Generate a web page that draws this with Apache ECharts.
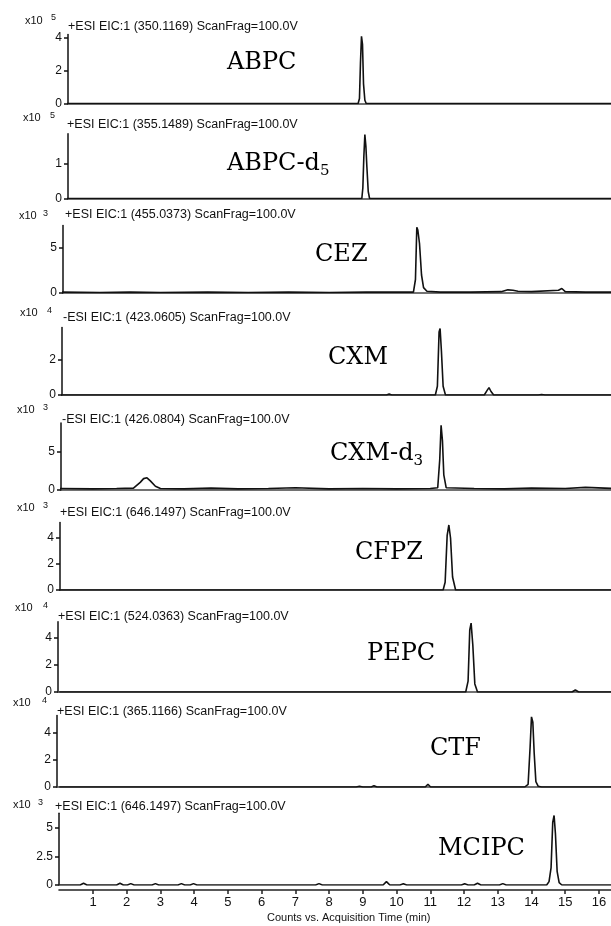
<!DOCTYPE html>
<html>
<head>
<meta charset="utf-8">
<script src="https://cdn.jsdelivr.net/npm/echarts@6/dist/echarts.min.js"></script>
<style>
html, body { margin: 0; padding: 0; background: #fff; }
#chart { width: 611px; height: 926px; }
</style>
</head>
<body>
<div id="chart"></div>
<script>
// retention time (min) and counts
const abpcTime   = [0, 8.86, 8.9, 8.93, 8.96, 8.99, 9.02, 9.06, 9.1, 16.4];
const abpcCounts = [0, 0, 0.3, 2.5, 4.1, 3.6, 1.2, 0.2, 0, 0];

const abpcD5Time   = [0, 8.97, 9.0, 9.03, 9.06, 9.09, 9.12, 9.16, 9.2, 11.15, 11.2, 11.25, 16.4];
const abpcD5Counts = [0, 0, 0.3, 1.2, 1.83, 1.5, 0.9, 0.2, 0, 0, 0.04, 0, 0];

const cezTime   = [0, 1.2, 2.1, 3.0, 4.4, 5.6, 6.8, 8.0, 9.1, 10.2, 10.5, 10.56, 10.6, 10.63, 10.68, 10.74, 10.8, 10.9,
                   11.3, 12.2, 13.1, 13.3, 13.45, 13.6, 14.0, 14.8, 14.9, 15.0, 15.6, 16.4];
const cezCounts = [0.1, 0.05, 0.1, 0.05, 0.1, 0.05, 0.1, 0.05, 0.1, 0.1, 0.1, 1.5, 7.3, 7.0, 5.5, 2.0, 0.6, 0.2,
                   0.1, 0.1, 0.15, 0.35, 0.3, 0.2, 0.15, 0.3, 0.5, 0.15, 0.1, 0.1];

const cxmTime   = [0, 9.7, 9.78, 9.86, 11.15, 11.21, 11.26, 11.29, 11.33, 11.38, 11.45,
                   12.6, 12.68, 12.74, 12.8, 12.88, 14.2, 14.3, 14.4, 16.4];
const cxmCounts = [0, 0, 0.05, 0, 0, 0.5, 3.6, 3.8, 2.5, 0.5, 0,
                   0, 0.25, 0.42, 0.2, 0, 0, 0.03, 0, 0];

const cxmD3Time   = [0, 1.0, 1.7, 2.2, 2.4, 2.5, 2.6, 2.7, 2.85, 3.0, 3.7, 4.5, 5.3, 6.2, 7.0, 8.0, 9.0, 10.0, 11.0,
                     11.22, 11.28, 11.32, 11.36, 11.4, 11.47, 12.3, 13.2, 14.0, 15.0, 15.6, 16.4];
const cxmD3Counts = [0.2, 0.15, 0.2, 0.25, 1.0, 1.5, 1.6, 1.2, 0.5, 0.2, 0.15, 0.25, 0.15, 0.2, 0.3, 0.15, 0.2, 0.15, 0.2,
                     0.3, 4.0, 8.5, 6.5, 2.0, 0.3, 0.2, 0.15, 0.25, 0.2, 0.35, 0.2];

const cfpzTime   = [0, 11.38, 11.44, 11.5, 11.55, 11.6, 11.66, 11.75, 16.4];
const cfpzCounts = [0, 0, 0.6, 4.2, 5.0, 4.0, 1.0, 0, 0];

const pepcTime   = [0, 12.05, 12.12, 12.17, 12.21, 12.26, 12.32, 12.4, 15.2, 15.3, 15.4, 16.4];
const pepcCounts = [0, 0, 0.8, 4.6, 5.1, 3.5, 0.6, 0, 0, 0.15, 0, 0];

const ctfTime   = [0, 8.8, 8.9, 9.0, 9.25, 9.33, 9.42, 10.85, 10.93, 11.01,
                   13.8, 13.9, 13.96, 14.0, 14.04, 14.08, 14.13, 14.2, 14.3, 16.4];
const ctfCounts = [0, 0, 0.05, 0, 0, 0.1, 0, 0, 0.2, 0,
                   0, 0.2, 3.0, 5.2, 4.8, 2.5, 0.4, 0.05, 0, 0];

const mcipcTime = [0, 0.62, 0.72, 0.82, 1.7, 1.8, 1.9, 2.02, 2.12, 2.22, 2.75, 2.85, 2.95,
                   3.52, 3.62, 3.72, 3.88, 3.98, 4.08, 7.6, 7.7, 7.8, 9.6, 9.7, 9.8, 10.1, 10.2, 10.3,
                   11.92, 12.02, 12.12, 12.3, 12.4, 12.5, 13.05, 13.15, 13.25,
                   14.45, 14.52, 14.58, 14.63, 14.67, 14.71, 14.76, 14.82, 14.9, 16.4];
const mcipcCounts = [0, 0, 0.15, 0, 0, 0.15, 0, 0, 0.12, 0, 0, 0.12, 0,
                     0, 0.12, 0, 0, 0.12, 0, 0, 0.12, 0, 0, 0.3, 0, 0, 0.1, 0,
                     0, 0.1, 0, 0, 0.15, 0, 0, 0.12, 0,
                     0, 0.3, 1.5, 5.5, 6.1, 4.5, 1.2, 0.2, 0, 0];

const traceTimes  = [abpcTime, abpcD5Time, cezTime, cxmTime, cxmD3Time, cfpzTime, pepcTime, ctfTime, mcipcTime];
const traceCounts = [abpcCounts, abpcD5Counts, cezCounts, cxmCounts, cxmD3Counts, cfpzCounts, pepcCounts, ctfCounts, mcipcCounts];

const compoundNames = ['ABPC', 'ABPC-d|5', 'CEZ', 'CXM', 'CXM-d|3', 'CFPZ', 'PEPC', 'CTF', 'MCIPC'];
const scanTitles = [
    '+ESI EIC:1 (350.1169) ScanFrag=100.0V',
    '+ESI EIC:1 (355.1489) ScanFrag=100.0V',
    '+ESI EIC:1 (455.0373) ScanFrag=100.0V',
    '-ESI EIC:1 (423.0605) ScanFrag=100.0V',
    '-ESI EIC:1 (426.0804) ScanFrag=100.0V',
    '+ESI EIC:1 (646.1497) ScanFrag=100.0V',
    '+ESI EIC:1 (524.0363) ScanFrag=100.0V',
    '+ESI EIC:1 (365.1166) ScanFrag=100.0V',
    '+ESI EIC:1 (646.1497) ScanFrag=100.0V'
];
const exponents = ['5', '5', '3', '4', '3', '3', '4', '4', '3'];
const yTicks = [[0, 2, 4], [0, 1], [0, 5], [0, 2], [0, 5], [0, 2, 4], [0, 2, 4], [0, 2, 4], [0, 2.5, 5]];
const yMax = [4.2, 1.85, 7.5, 3.85, 8.8, 5.2, 5.2, 5.3, 6.3];
const xTicks = [1, 2, 3, 4, 5, 6, 7, 8, 9, 10, 11, 12, 13, 14, 15, 16];

// layout (px)
const panelLeft = [68, 68, 63, 62, 61, 60, 58, 57, 59];
const panelTop = [34.6, 133.8, 225.5, 327.6, 423.1, 522.4, 621.8, 715.5, 813.2];
const panelBase = [103.5, 198.5, 293, 395, 490, 590, 692, 787, 885];
const titlePos = [[68, 27], [67, 125], [65, 215], [63, 318], [62, 420], [60, 513], [58, 617], [57, 712], [55, 807]];
const x10Pos = [[25, 21], [23, 118], [19, 216], [20, 313], [17, 410], [17, 508], [15, 608], [13, 703], [13, 805]];
const expPos = [[51, 18], [50, 116], [43, 214], [47, 311], [43, 408], [43, 506], [43, 606], [42, 701], [38, 803]];
const namePos = [[227, 66], [227, 167], [315, 258], [328, 361], [330, 457], [355, 556], [367, 657], [430, 752], [438, 852]];

const tickOneX = 93;
const pxPerMin = 33.73;
const chartWidth = 611;
const sansFont = 'Liberation Sans';
const serifFont = 'DejaVu Serif';

let chart = echarts.init(document.getElementById('chart'));

let grids = [], xAxes = [], yAxes = [], series = [], graphics = [];
for (let i = 0; i < traceTimes.length; i++) {
    let last = i === traceTimes.length - 1;
    grids.push({
        left: panelLeft[i],
        right: 0,
        top: panelTop[i],
        height: panelBase[i] - panelTop[i]
    });
    xAxes.push({
        gridIndex: i,
        type: 'value',
        min: 1 + (panelLeft[i] - tickOneX) / pxPerMin,
        max: 1 + (chartWidth - tickOneX) / pxPerMin,
        offset: last ? 5 : 0,
        axisLine: { show: true, onZero: false, lineStyle: { color: last ? '#222' : '#444', width: 1.6 } },
        axisTick: { show: last, customValues: xTicks, length: 4, lineStyle: { color: '#222', width: 1.5 } },
        axisLabel: { show: last, customValues: xTicks, fontSize: 13, color: '#111', margin: 6, fontFamily: sansFont },
        splitLine: { show: false }
    });
    yAxes.push({
        gridIndex: i,
        type: 'value',
        min: 0,
        max: yMax[i],
        axisLine: { show: true, onZero: false, lineStyle: { color: '#111', width: 1.5 } },
        axisTick: { show: true, customValues: yTicks[i], length: 4, lineStyle: { color: '#111', width: 1.5 } },
        axisLabel: { customValues: yTicks[i], fontSize: 12, color: '#111', margin: 6, fontFamily: sansFont },
        splitLine: { show: false }
    });
    series.push({
        type: 'line',
        xAxisIndex: i,
        yAxisIndex: i,
        data: traceTimes[i].map((t, k) => [t, traceCounts[i][k]]),
        showSymbol: false,
        lineStyle: { color: '#111', width: 1.6 },
        silent: true
    });

    // "x10" with exponent, scan title
    graphics.push({
        type: 'text', left: x10Pos[i][0], top: x10Pos[i][1] - 6,
        style: { text: 'x10', font: '11px ' + sansFont, fill: '#111' }
    });
    graphics.push({
        type: 'text', left: expPos[i][0], top: expPos[i][1] - 5,
        style: { text: exponents[i], font: '9px ' + sansFont, fill: '#111' }
    });
    graphics.push({
        type: 'text', left: titlePos[i][0], top: titlePos[i][1] - 7,
        style: { text: scanTitles[i], font: '12.5px ' + sansFont, fill: '#111' }
    });

    // compound label, with subscript for the deuterated standards
    let parts = compoundNames[i].split('|');
    let label = '{n|' + parts[0] + '}' + (parts[1] ? '{s|' + parts[1] + '}' : '');
    graphics.push({
        type: 'text', left: namePos[i][0], top: namePos[i][1] - 15,
        style: {
            text: label,
            rich: {
                n: { fontFamily: serifFont, fontSize: 24, lineHeight: 30, fill: '#000', color: '#000' },
                s: { fontFamily: serifFont, fontSize: 15, lineHeight: 15, verticalAlign: 'bottom', fill: '#000', color: '#000' }
            }
        }
    });
}

graphics.push({
    type: 'text', left: 267, top: 912,
    style: { text: 'Counts vs. Acquisition Time (min)', font: '11px ' + sansFont, fill: '#111' }
});

chart.setOption({
    animation: false,
    backgroundColor: '#fff',
    grid: grids,
    xAxis: xAxes,
    yAxis: yAxes,
    series: series,
    graphic: graphics
});
</script>
</body>
</html>
